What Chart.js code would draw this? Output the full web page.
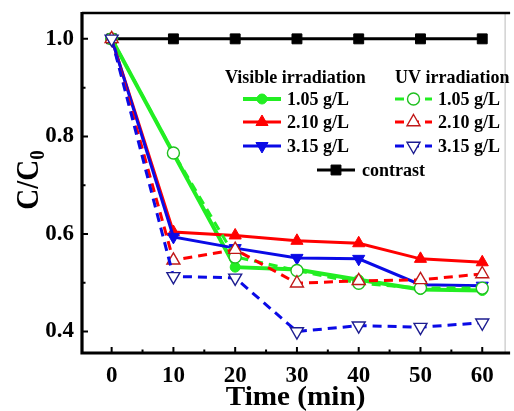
<!DOCTYPE html>
<html lang="en">
<head>
<meta charset="UTF-8">
<title>C/C0 vs irradiation time</title>
<script src="https://cdn.jsdelivr.net/npm/chart.js"></script>
<style>
  * { margin: 0; padding: 0; box-sizing: border-box; }
  body { background: #fff; width: 514px; height: 411px; overflow: hidden; }
  #wrap { position: relative; width: 514px; height: 411px; }
</style>
</head>
<body>
<div id="wrap"><canvas id="chart" width="514" height="411"></canvas></div>
<script>
  // data
  const times = [0, 10, 20, 30, 40, 50, 60];
  const vis105 = [1.0, 0.765, 0.532, 0.527, 0.506, 0.486, 0.484];
  const vis210 = [1.0, 0.604, 0.597, 0.586, 0.581, 0.549, 0.542];
  const vis315 = [1.0, 0.594, 0.571, 0.551, 0.549, 0.496, 0.494];
  const uv105 = [1.0, 0.766, 0.553, 0.525, 0.499, 0.489, 0.489];
  const uv210 = [1.0, 0.546, 0.568, 0.499, 0.504, 0.506, 0.518];
  const uv315 = [1.0, 0.513, 0.510, 0.400, 0.412, 0.409, 0.418];
  const contrast = [1.0, 1.0, 1.0, 1.0, 1.0, 1.0, 1.0];

  const xTicks = [0, 10, 20, 30, 40, 50, 60];
  const xMinor = [5, 15, 25, 35, 45, 55];
  const yTicks = [0.4, 0.6, 0.8, 1.0];
  const yMinor = [0.5, 0.7, 0.9];

  const FONT = "'Liberation Serif', 'DejaVu Serif', serif";
  const GREEN = '#22ee22', RED = '#ff0000', BLUE = '#0a0ae6';

  function pts(vals) {
    return times.map((t, i) => ({ x: t, y: vals[i] }));
  }

  function solid(label, vals, color, style, rot, r, order, w) {
    return {
      label: label, data: pts(vals), order: order,
      borderColor: color, borderWidth: w || 3,
      pointStyle: style, pointRotation: rot, pointRadius: r,
      pointBackgroundColor: color, pointBorderColor: color, pointBorderWidth: 1
    };
  }

  function dashed(label, vals, color, edge, style, rot, r, order) {
    return {
      label: label, data: pts(vals), order: order,
      borderColor: color, borderWidth: 3, borderDash: [9, 6],
      pointStyle: style, pointRotation: rot, pointRadius: r,
      pointBackgroundColor: '#ffffff', pointBorderColor: edge, pointBorderWidth: 1.4
    };
  }

  const datasets = [
    solid('contrast', contrast, '#000000', 'rect', 0, 7, 6),
    solid('vis 1.05 g/L', vis105, GREEN, 'circle', 0, 5, 5, 4),
    solid('vis 2.10 g/L', vis210, RED, 'triangle', 0, 7, 4),
    solid('vis 3.15 g/L', vis315, BLUE, 'triangle', 180, 7, 3),
    dashed('uv 1.05 g/L', uv105, GREEN, '#1fbf1f', 'circle', 0, 6, 2),
    dashed('uv 2.10 g/L', uv210, RED, '#c01818', 'triangle', 0, 7.5, 1),
    dashed('uv 3.15 g/L', uv315, BLUE, '#1c1c90', 'triangle', 180, 7.5, 0)
  ];

  function marker(ctx, ds, x, y) {
    ctx.save();
    ctx.setLineDash([]);
    ctx.fillStyle = ds.pointBackgroundColor;
    ctx.strokeStyle = ds.pointBorderColor;
    ctx.lineWidth = ds.pointBorderWidth;
    Chart.helpers.drawPoint(ctx, {
      pointStyle: ds.pointStyle, rotation: ds.pointRotation,
      radius: ds.pointRadius, borderWidth: ds.pointBorderWidth
    }, x, y);
    ctx.restore();
  }

  function sample(ctx, ds, x1, x2, y) {
    ctx.save();
    ctx.strokeStyle = ds.borderColor;
    ctx.lineWidth = ds.borderWidth;
    ctx.setLineDash(ds.borderDash || []);
    ctx.beginPath();
    ctx.moveTo(x1, y);
    ctx.lineTo(x2, y);
    ctx.stroke();
    ctx.restore();
    marker(ctx, ds, (x1 + x2) / 2, y);
  }

  function noPad(s) {
    s.paddingTop = 0; s.paddingBottom = 0;
    s.paddingLeft = 0; s.paddingRight = 0;
  }

  const framePlugin = {
    id: 'frame',
    afterDraw(chart) {
      const ctx = chart.ctx;
      const a = chart.chartArea;
      const xs = chart.scales.x, ys = chart.scales.y;
      ctx.save();
      ctx.strokeStyle = '#000';

      // inward ticks
      ctx.lineWidth = 2;
      ctx.beginPath();
      xTicks.forEach(v => { const p = xs.getPixelForValue(v); ctx.moveTo(p, a.bottom); ctx.lineTo(p, a.bottom - 6); });
      xMinor.forEach(v => { const p = xs.getPixelForValue(v); ctx.moveTo(p, a.bottom); ctx.lineTo(p, a.bottom - 3.5); });
      yTicks.forEach(v => { const p = ys.getPixelForValue(v); ctx.moveTo(a.left, p); ctx.lineTo(a.left + 6, p); });
      yMinor.forEach(v => { const p = ys.getPixelForValue(v); ctx.moveTo(a.left, p); ctx.lineTo(a.left + 3.5, p); });
      ctx.stroke();

      // box
      ctx.strokeStyle = '#bbbbbb';
      ctx.lineWidth = 1;
      ctx.beginPath();
      ctx.moveTo(a.right, a.top);
      ctx.lineTo(a.right, a.bottom);
      ctx.stroke();
      ctx.strokeStyle = '#000';
      ctx.lineWidth = 2.5;
      ctx.beginPath();
      ctx.moveTo(a.left, a.top);
      ctx.lineTo(a.right + 5, a.top);
      ctx.stroke();
      ctx.lineWidth = 3.2;
      ctx.beginPath();
      ctx.moveTo(a.left, a.top - 1);
      ctx.lineTo(a.left, a.bottom);
      ctx.lineTo(a.right + 5, a.bottom);
      ctx.stroke();

      // axis titles
      ctx.fillStyle = '#000';
      ctx.textBaseline = 'alphabetic';
      ctx.save();
      ctx.translate((a.left + a.right) / 2 + 2, 405);
      ctx.scale(1.08, 1);
      ctx.font = 'bold 27px ' + FONT;
      ctx.textAlign = 'center';
      ctx.fillText('Time (min)', 0, 0);
      ctx.restore();

      ctx.save();
      ctx.translate(38, 180);
      ctx.rotate(-Math.PI / 2);
      ctx.scale(1, 1.1);
      ctx.font = 'bold 29px ' + FONT;
      const main = 'C/C';
      const mw = ctx.measureText(main).width;
      ctx.font = 'bold 19px ' + FONT;
      const sw = ctx.measureText('0').width;
      const start = -(mw + sw) / 2;
      ctx.textAlign = 'left';
      ctx.font = 'bold 29px ' + FONT;
      ctx.fillText(main, start, 0);
      ctx.font = 'bold 19px ' + FONT;
      ctx.fillText('0', start + mw, 5);
      ctx.restore();

      // legend
      const d = chart.data.datasets;
      ctx.font = 'bold 18px ' + FONT;
      ctx.textAlign = 'left';
      ctx.fillText('Visible irradiation', 225, 83);
      ctx.fillText('UV irradiation', 395, 83);
      const rows = [99, 122, 146];
      const names = ['1.05 g/L', '2.10 g/L', '3.15 g/L'];
      rows.forEach((y, i) => {
        sample(ctx, d[1 + i], 243, 281, y);
        sample(ctx, d[4 + i], 395, 432, y);
        ctx.fillStyle = '#000';
        ctx.font = 'bold 18px ' + FONT;
        ctx.fillText(names[i], 287, y + 6);
        ctx.fillText(names[i], 438, y + 6);
      });
      sample(ctx, d[0], 317, 355, 170);
      ctx.fillStyle = '#000';
      ctx.font = 'bold 18px ' + FONT;
      ctx.fillText('contrast', 362, 176);
      ctx.restore();
    }
  };

  new Chart(document.getElementById('chart'), {
    type: 'line',
    data: { datasets: datasets },
    options: {
      responsive: false,
      animation: false,
      layout: { padding: { top: 13, right: 5, left: 0, bottom: 0 } },
      plugins: { legend: { display: false }, tooltip: { enabled: false } },
      elements: { line: { tension: 0 } },
      scales: {
        x: {
          type: 'linear', min: -4.8, max: 63.7,
          afterFit(s) { s.height = 58; noPad(s); },
          afterBuildTicks(s) { s.ticks = xTicks.map(v => ({ value: v })); },
          grid: { display: false, drawTicks: false },
          border: { display: false },
          ticks: { color: '#000', padding: 9, font: { family: FONT, size: 23, weight: 'bold' } }
        },
        y: {
          type: 'linear', min: 0.356, max: 1.053,
          afterFit(s) { s.width = 82; noPad(s); },
          afterBuildTicks(s) { s.ticks = yTicks.map(v => ({ value: v })); },
          grid: { display: false, drawTicks: false },
          border: { display: false },
          ticks: {
            color: '#000', padding: 8,
            font: { family: FONT, size: 23, weight: 'bold' },
            callback: v => Number(v).toFixed(1)
          }
        }
      }
    },
    plugins: [framePlugin]
  });
</script>
</body>
</html>
